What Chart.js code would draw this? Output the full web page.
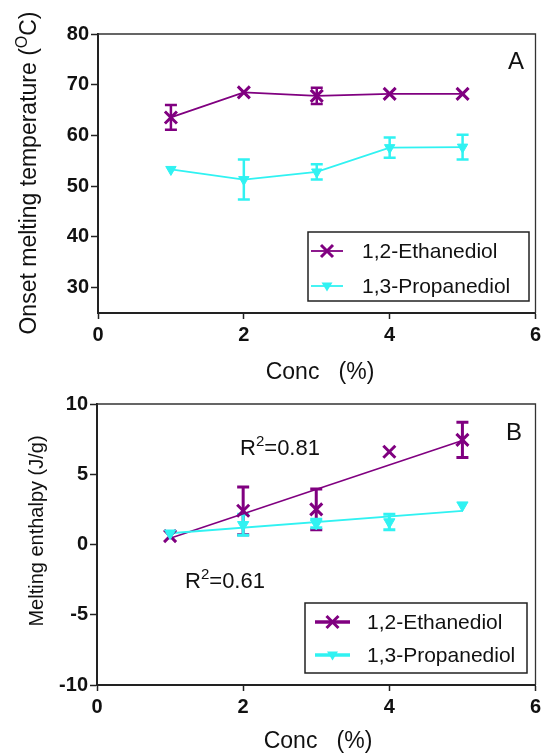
<!DOCTYPE html>
<html>
<head>
<meta charset="utf-8">
<script src="https://cdn.jsdelivr.net/npm/chart.js@4.4.0/dist/chart.umd.min.js"></script>
<style>
    html, body { margin: 0; padding: 0; background: #fff; }
    #wrapA { position: absolute; left: 0; top: 0; width: 547px; height: 385px; }
    #wrapB { position: absolute; left: 0; top: 385px; width: 547px; height: 371px; }
</style>
</head>
<body>
<div id="wrapA"><canvas id="chartA"></canvas></div>
<div id="wrapB"><canvas id="chartB"></canvas></div>
<script>
const concs = [1, 2, 3, 4, 5];
const xTicks = [0, 2, 4, 6];
const seriesNames = ["1,2-Ethanediol", "1,3-Propanediol"];

// panel A - onset melting temperature
const onsetEthanediol = [63.55, 68.5, 67.8, 68.2, 68.2];
const onsetEthanediolErr = [2.45, 0, 1.6, 0, 0];
const onsetPropanediol = [53.3, 51.3, 52.8, 57.6, 57.7];
const onsetPropanediolErr = [0, 3.95, 1.5, 2.0, 2.45];
const yTicksA = [30, 40, 50, 60, 70, 80];

// panel B - melting enthalpy
const enthalpyEthanediol = [0.6, 2.4, 2.5, 6.6, 7.45];
const enthalpyEthanediolErr = [0, 1.7, 1.45, 0, 1.25];
const enthalpyPropanediol = [0.8, 1.4, 1.5, 1.6, 2.8];
const enthalpyPropanediolErr = [0, 0.75, 0.3, 0.55, 0];
const fitX = [1, 5];
const fitEthanediol = [0.45, 7.4];
const fitPropanediol = [0.8, 2.4];
const r2Ethanediol = "0.81";
const r2Propanediol = "0.61";
const yTicksB = [-10, -5, 0, 5, 10];

const PURPLE = "#800080";
const CYAN = "#30f2f2";
const FONT = "'Liberation Sans', Arial, sans-serif";

Chart.defaults.font.family = FONT;

const toPts = (xs, ys) => xs.map((x, i) => ({ x: x, y: ys[i] }));

// error bars drawn through the chart scales
const errorBars = {
    id: "errorBars",
    beforeDatasetsDraw(chart) {
        const { ctx, scales } = chart;
        const x = scales.x, y = scales.y;
        chart.data.datasets.forEach((ds) => {
            if (!ds.errors) return;
            ctx.save();
            ctx.strokeStyle = ds.borderColor;
            ctx.lineWidth = ds.errWidth || 2.5;
            ds.data.forEach((p, j) => {
                const e = ds.errors[j];
                if (!e) return;
                const px = x.getPixelForValue(p.x);
                const top = y.getPixelForValue(p.y + e);
                const bot = y.getPixelForValue(p.y - e);
                const c = 6;
                ctx.beginPath();
                ctx.moveTo(px, top); ctx.lineTo(px, bot);
                ctx.moveTo(px - c, top); ctx.lineTo(px + c, top);
                ctx.moveTo(px - c, bot); ctx.lineTo(px + c, bot);
                ctx.stroke();
            });
            ctx.restore();
        });
    },
};

// top / right frame lines
const frame = {
    id: "frame",
    afterDraw(chart) {
        const { ctx, chartArea: a } = chart;
        ctx.save();
        ctx.strokeStyle = "#333";
        ctx.lineWidth = 1.3;
        ctx.beginPath();
        ctx.moveTo(a.left, a.top);
        ctx.lineTo(a.right, a.top);
        ctx.lineTo(a.right, a.bottom);
        ctx.stroke();
        ctx.restore();
    },
};

function drawMarker(ctx, style, cx, cy, color) {
    ctx.save();
    ctx.strokeStyle = color;
    ctx.fillStyle = color;
    if (style === "crossRot") {
        const o = 6;
        ctx.lineWidth = 3;
        ctx.beginPath();
        ctx.moveTo(cx - o, cy - o); ctx.lineTo(cx + o, cy + o);
        ctx.moveTo(cx + o, cy - o); ctx.lineTo(cx - o, cy + o);
        ctx.stroke();
    } else {
        ctx.beginPath();
        ctx.moveTo(cx - 5.5, cy - 3.5);
        ctx.lineTo(cx + 5.5, cy - 3.5);
        ctx.lineTo(cx, cy + 5.5);
        ctx.closePath();
        ctx.fill();
    }
    ctx.restore();
}

function legendPlugin(box, lineW) {
    return {
        id: "boxLegend",
        afterDraw(chart) {
            const ctx = chart.ctx;
            ctx.save();
            ctx.fillStyle = "#fff";
            ctx.fillRect(box.x, box.y, box.w, box.h);
            ctx.strokeStyle = "#222";
            ctx.lineWidth = 1.5;
            ctx.strokeRect(box.x, box.y, box.w, box.h);
            const styles = ["crossRot", "triangle"];
            const colors = [PURPLE, CYAN];
            seriesNames.forEach((name, i) => {
                const cy = box.y + box.rows[i];
                ctx.strokeStyle = colors[i];
                ctx.lineWidth = lineW;
                ctx.beginPath();
                ctx.moveTo(box.x + box.l0, cy);
                ctx.lineTo(box.x + box.l1, cy);
                ctx.stroke();
                drawMarker(ctx, styles[i], box.x + (box.l0 + box.l1) / 2, cy, colors[i]);
                ctx.fillStyle = "#111";
                ctx.font = "21px " + FONT;
                ctx.textBaseline = "middle";
                ctx.textAlign = "left";
                ctx.fillText(name, box.x + box.tx, cy + 1);
            });
            ctx.restore();
        },
    };
}

// draws "pre" + superscript + "post" centered at (cx, cy)
function supText(ctx, pre, sup, post, cx, cy, size, rotate) {
    ctx.save();
    ctx.translate(cx, cy);
    if (rotate) ctx.rotate(-Math.PI / 2);
    ctx.fillStyle = "#111";
    ctx.textBaseline = "middle";
    ctx.textAlign = "left";
    const big = size + "px " + FONT;
    const small = Math.round(size * 0.68) + "px " + FONT;
    ctx.font = big;
    const w1 = ctx.measureText(pre).width;
    const w3 = ctx.measureText(post).width;
    ctx.font = small;
    const w2 = ctx.measureText(sup).width;
    let x = -(w1 + w2 + w3) / 2;
    ctx.font = big;
    ctx.fillText(pre, x, 0);
    x += w1;
    ctx.font = small;
    ctx.fillText(sup, x, -size * 0.33);
    x += w2;
    ctx.font = big;
    ctx.fillText(post, x, 0);
    ctx.restore();
}

function textPlugin(draw) {
    return { id: "texts", afterDraw(chart) { draw(chart.ctx); } };
}

function makeScales(yMin, yMax, yTicks, yWidth, xHeight) {
    const tickFont = { family: FONT, size: 20, weight: "bold" };
    return {
        x: {
            type: "linear",
            min: 0,
            max: 6,
            afterBuildTicks: (s) => { s.ticks = xTicks.map((v) => ({ value: v })); },
            afterFit: (s) => { s.height = xHeight; },
            grid: { display: true, drawOnChartArea: false, drawTicks: true, tickLength: 6, tickColor: "#222", tickWidth: 1.5 },
            border: { display: true, color: "#222", width: 2 },
            ticks: { color: "#111", font: tickFont, padding: 4, maxRotation: 0 },
        },
        y: {
            type: "linear",
            min: yMin,
            max: yMax,
            afterBuildTicks: (s) => { s.ticks = yTicks.map((v) => ({ value: v })); },
            afterFit: (s) => { s.width = yWidth; },
            grid: { display: true, drawOnChartArea: false, drawTicks: true, tickLength: 7, tickColor: "#222", tickWidth: 1.5 },
            border: { display: true, color: "#222", width: 2 },
            ticks: { color: "#111", font: tickFont, padding: 2 },
        },
    };
}

const baseOptions = (scales, padding) => ({
    responsive: true,
    maintainAspectRatio: false,
    animation: false,
    layout: { padding },
    scales,
    plugins: { legend: { display: false }, tooltip: { enabled: false } },
});

// ---------- panel A ----------
new Chart(document.getElementById("chartA"), {
    type: "scatter",
    data: {
        datasets: [
            {
                data: toPts(concs, onsetEthanediol),
                errors: onsetEthanediolErr,
                showLine: true,
                borderColor: PURPLE,
                backgroundColor: PURPLE,
                borderWidth: 1.8,
                pointStyle: "crossRot",
                pointRadius: 8.5,
                pointBorderWidth: 3,
                order: 2,
            },
            {
                data: toPts(concs, onsetPropanediol),
                errors: onsetPropanediolErr,
                showLine: true,
                borderColor: CYAN,
                backgroundColor: CYAN,
                borderWidth: 1.8,
                pointStyle: "triangle",
                rotation: 180,
                pointRadius: 6,
                pointBorderWidth: 1,
                order: 1,
            },
        ],
    },
    options: baseOptions(makeScales(25, 80, yTicksA, 98, 72), { top: 34, right: 5, left: 0, bottom: 0 }),
    plugins: [
        errorBars,
        frame,
        legendPlugin({ x: 308, y: 232, w: 221, h: 69, rows: [19, 54], l0: 3, l1: 35, tx: 54 }, 1.8),
        textPlugin((ctx) => {
            ctx.save();
            ctx.fillStyle = "#111";
            ctx.font = "24px " + FONT;
            ctx.textAlign = "center";
            ctx.textBaseline = "middle";
            ctx.fillText("A", 516, 62);
            ctx.font = "23px " + FONT;
            ctx.fillText("Conc   (%)", 320, 373);
            ctx.restore();
            supText(ctx, "Onset melting temperature (", "O", "C)", 30, 173, 23, true);
        }),
    ],
});

// ---------- panel B ----------
new Chart(document.getElementById("chartB"), {
    type: "scatter",
    data: {
        datasets: [
            {
                data: toPts(fitX, fitEthanediol),
                showLine: true,
                borderColor: PURPLE,
                borderWidth: 1.6,
                pointRadius: 0,
                order: 4,
            },
            {
                data: toPts(fitX, fitPropanediol),
                showLine: true,
                borderColor: CYAN,
                borderWidth: 1.8,
                pointRadius: 0,
                order: 3,
            },
            {
                data: toPts(concs, enthalpyEthanediol),
                errors: enthalpyEthanediolErr,
                errWidth: 3,
                showLine: false,
                borderColor: PURPLE,
                backgroundColor: PURPLE,
                pointStyle: "crossRot",
                pointRadius: 8.5,
                pointBorderWidth: 3,
                order: 2,
            },
            {
                data: toPts(concs, enthalpyPropanediol),
                errors: enthalpyPropanediolErr,
                errWidth: 3,
                showLine: false,
                borderColor: CYAN,
                backgroundColor: CYAN,
                pointStyle: "triangle",
                rotation: 180,
                pointRadius: 6.5,
                pointBorderWidth: 1,
                order: 1,
            },
        ],
    },
    options: baseOptions(makeScales(-10, 10, yTicksB, 97, 71), { top: 19, right: 10, left: 0, bottom: 0 }),
    plugins: [
        errorBars,
        frame,
        legendPlugin({ x: 305, y: 218, w: 222, h: 70, rows: [19, 52], l0: 10, l1: 45, tx: 62 }, 3.5),
        textPlugin((ctx) => {
            ctx.save();
            ctx.fillStyle = "#111";
            ctx.font = "24px " + FONT;
            ctx.textAlign = "center";
            ctx.textBaseline = "middle";
            ctx.fillText("B", 514, 48);
            ctx.font = "23px " + FONT;
            ctx.fillText("Conc   (%)", 318, 357);
            ctx.restore();
            supText(ctx, "R", "2", "=" + r2Ethanediol, 280, 64, 22, false);
            supText(ctx, "R", "2", "=" + r2Propanediol, 225, 197, 22, false);
            supText(ctx, "Melting enthalpy (J/g)", "", "", 37, 146, 20, true);
        }),
    ],
});
</script>
</body>
</html>
